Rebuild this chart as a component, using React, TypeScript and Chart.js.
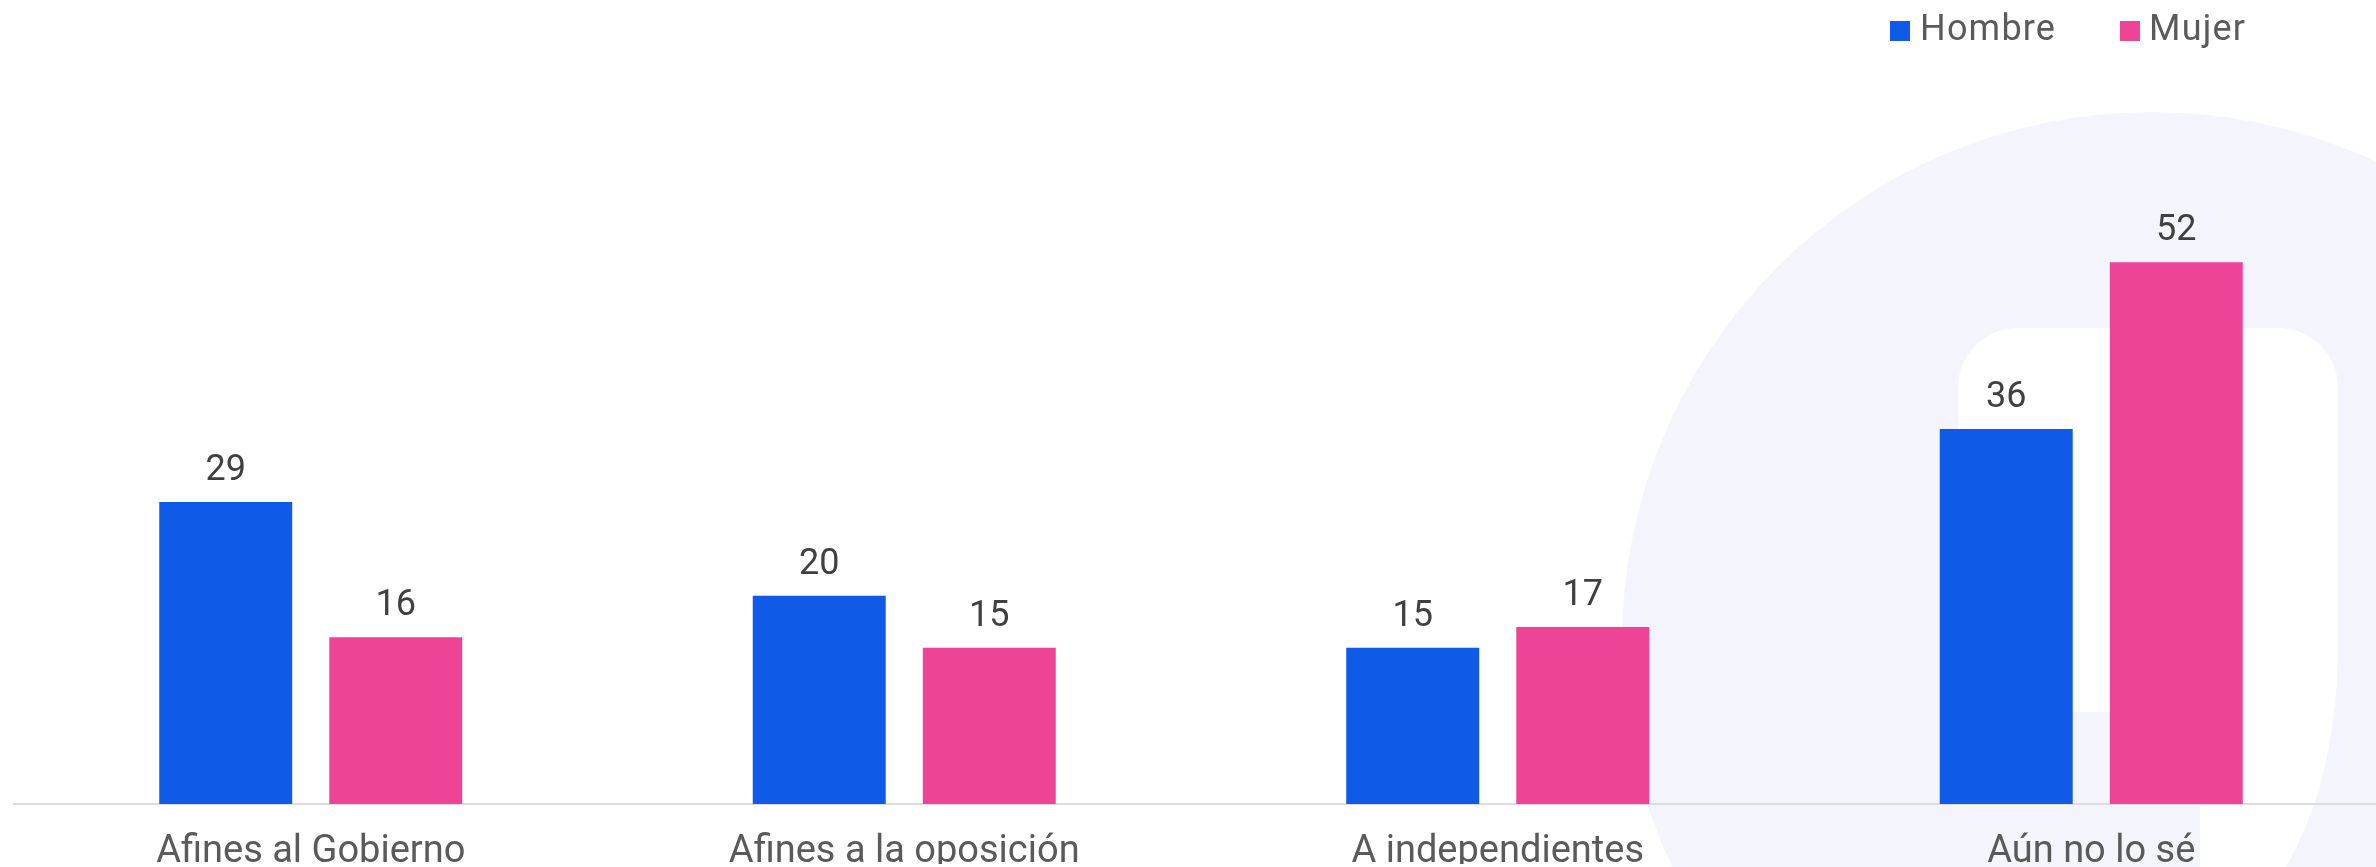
import React, { useEffect, useRef } from "react";
import { Chart, registerables } from "chart.js";

Chart.register(...registerables);

// ---- data ----
const categories = ["Afines al Gobierno", "Afines a la oposición", "A independientes", "Aún no lo sé"];
const seriesNames = ["Hombre", "Mujer"];
const hombreValues = [29, 20, 15, 36];
const mujerValues = [16, 15, 17, 52];
const yMin = 0;
const yMax = 60;

// ---- styles ----
const BLUE = "#0f5ae6";
const PINK = "#ee4497";
const CANVAS_W = 2390;
const CANVAS_H = 900;
const FONT = "Roboto";

const watermarkPlugin = {
  id: "watermark",
  beforeDraw(chart: any) {
    const ctx = chart.ctx as CanvasRenderingContext2D;
    ctx.save();
    ctx.fillStyle = "#f4f5fc";
    ctx.beginPath();
    ctx.arc(2152, 642, 530, 0, Math.PI * 2);
    ctx.fill();
    ctx.fillStyle = "#ffffff";
    ctx.beginPath();
    (ctx as any).roundRect(1958, 328, 380, 384, 60);
    ctx.fill();
    ctx.beginPath();
    ctx.moveTo(2200, 650);
    ctx.lineTo(2338, 650);
    ctx.quadraticCurveTo(2336, 790, 2278, 880);
    ctx.lineTo(2200, 880);
    ctx.closePath();
    ctx.fill();
    ctx.restore();
  },
};

const valueLabelPlugin = {
  id: "valueLabels",
  afterDatasetsDraw(chart: any) {
    const ctx = chart.ctx as CanvasRenderingContext2D;
    ctx.save();
    ctx.font = `36px ${FONT}`;
    ctx.fillStyle = "#404040";
    ctx.textAlign = "center";
    ctx.textBaseline = "alphabetic";
    chart.data.datasets.forEach((ds: any, di: number) => {
      const meta = chart.getDatasetMeta(di);
      meta.data.forEach((bar: any, i: number) => {
        ctx.fillText(String(ds.data[i]), bar.x, bar.y - 22);
      });
    });
    ctx.restore();
  },
};

export default function App() {
  const ref = useRef<HTMLCanvasElement>(null);

  useEffect(() => {
    if (!ref.current) return;
    const chart = new Chart(ref.current, {
      type: "bar",
      data: {
        labels: categories,
        datasets: [
          { label: seriesNames[0], data: hombreValues, backgroundColor: BLUE },
          { label: seriesNames[1], data: mujerValues, backgroundColor: PINK },
        ],
      },
      options: {
        responsive: false,
        animation: false,
        layout: { padding: { left: 14, right: 2, top: 179, bottom: 36 } },
        datasets: {
          bar: { categoryPercentage: 0.573, barPercentage: 0.782 },
        } as any,
        plugins: {
          legend: { display: false },
          tooltip: { enabled: false },
        },
        scales: {
          x: {
            grid: { display: false, drawTicks: false },
            border: { display: true, color: "#dcdcdc", width: 2 },
            ticks: {
              padding: 26,
              color: "#5a5a5a",
              font: { family: FONT, size: 38 },
            },
            afterFit: (scale: any) => {
              scale.height = 60;
            },
          },
          y: {
            display: false,
            min: yMin,
            max: yMax,
          },
        },
      },
      plugins: [watermarkPlugin, valueLabelPlugin],
    });
    return () => chart.destroy();
  }, []);

  const legendText: React.CSSProperties = {
    position: "absolute",
    top: 10,
    fontFamily: FONT,
    fontSize: 36,
    lineHeight: "36px",
    letterSpacing: "1.2px",
    color: "#5a5a5a",
    whiteSpace: "nowrap",
  };
  const box = (left: number, color: string): React.CSSProperties => ({
    position: "absolute",
    left,
    top: 21,
    width: 20,
    height: 20,
    background: color,
  });

  return (
    <div style={{ position: "fixed", left: 0, top: 0, width: "100vw", height: "100vh", overflow: "hidden", background: "#fff" }}>
      <div style={{ position: "absolute", left: 0, top: 0, width: CANVAS_W, height: CANVAS_H }}>
        <canvas ref={ref} width={CANVAS_W} height={CANVAS_H} style={{ display: "block" }} />
        <div style={box(1890, BLUE)} />
        <div style={{ ...legendText, left: 1920 }}>{seriesNames[0]}</div>
        <div style={box(2120, PINK)} />
        <div style={{ ...legendText, left: 2149 }}>{seriesNames[1]}</div>
      </div>
    </div>
  );
}
